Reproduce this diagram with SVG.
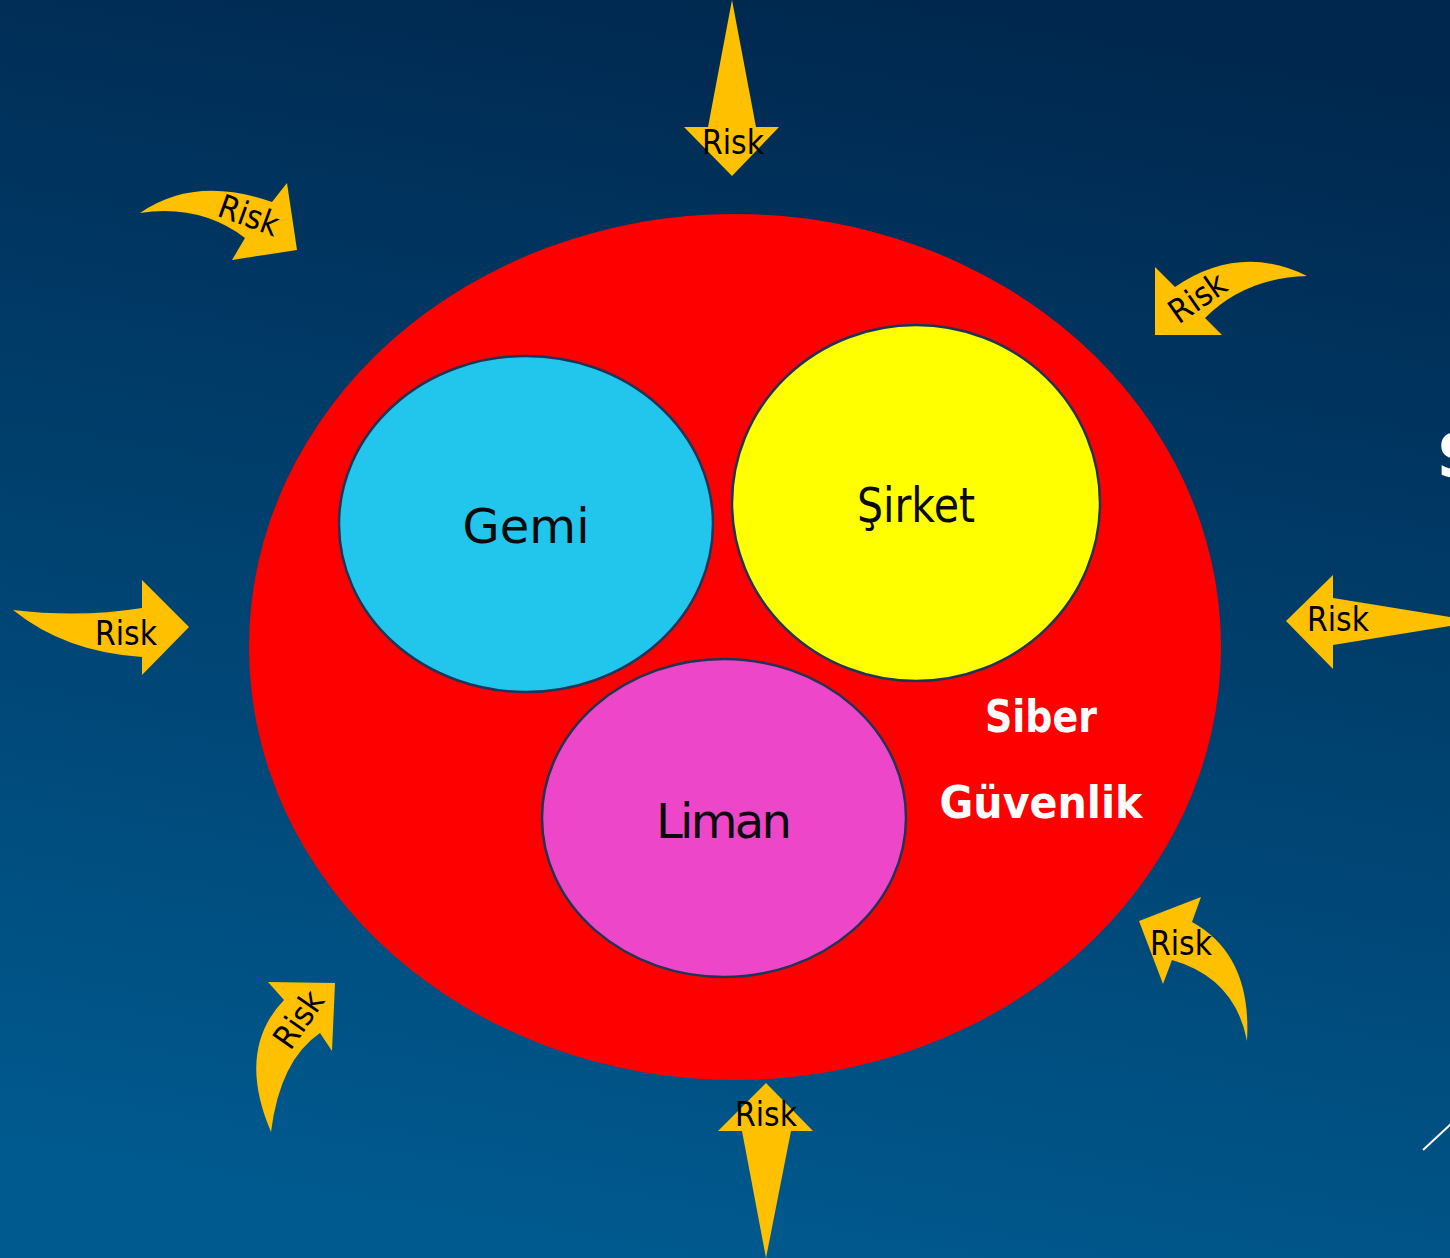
<svg xmlns="http://www.w3.org/2000/svg" width="1450" height="1258" viewBox="0 0 1450 1258">
<defs>
<linearGradient id="bg" x1="0.6" y1="0" x2="0.4" y2="1">
<stop offset="0" stop-color="#00284f"/>
<stop offset="1" stop-color="#005a8f"/>
</linearGradient>
</defs>
<style>
.arrow{fill:#ffc000}
.risk{font-family:"DejaVu Sans",sans-serif;font-size:33px;fill:#000;text-anchor:middle}
.lbl{font-family:"DejaVu Sans",sans-serif;font-size:48px;fill:#0a0a0a;text-anchor:middle}
.sib{font-family:"DejaVu Sans",sans-serif;font-weight:bold;font-size:44px;fill:#fff;text-anchor:middle}
.inner{stroke:#1f3557;stroke-width:2.5}
</style>
<rect width="1450" height="1258" fill="url(#bg)"/>
<text x="1437" y="477" font-family="DejaVu Sans, sans-serif" font-weight="bold" font-size="60" fill="#fff">S</text>
<line x1="1423" y1="1150" x2="1452" y2="1123" stroke="#fff" stroke-width="2"/>
<g id="siber-guvenlik">
<ellipse cx="735" cy="647" rx="486" ry="433" fill="#ff0000"/>
<text class="sib" x="1041" y="732" textLength="112" lengthAdjust="spacingAndGlyphs">Siber</text>
<text class="sib" x="1041" y="818" textLength="203" lengthAdjust="spacingAndGlyphs">Güvenlik</text>
</g>
<g id="gemi">
<ellipse class="inner" cx="526" cy="524" rx="187" ry="168" fill="#22c5ec"/>
<text class="lbl" x="526" y="543" textLength="127">Gemi</text>
</g>
<g id="sirket">
<ellipse class="inner" cx="916" cy="503" rx="184" ry="178" fill="#ffff00"/>
<text class="lbl" x="916" y="522" textLength="118" lengthAdjust="spacingAndGlyphs">Şirket</text>
</g>
<g id="liman">
<ellipse class="inner" cx="724" cy="818" rx="182" ry="159" fill="#ee46c8"/>
<text class="lbl" x="724" y="838" textLength="136">Liman</text>
</g>
<g id="connectors">
<g id="risk-top">
<polygon class="arrow" points="732,0 756,127 779,127 732,176 684,127 708,127"/>
<text class="risk" x="733" y="154" textLength="62" lengthAdjust="spacingAndGlyphs">Risk</text>
</g>
<g id="risk-bottom">
<polygon class="arrow" points="766,1083 813,1131 791,1131 766,1258 742,1131 718,1131"/>
<text class="risk" x="766" y="1126" textLength="62" lengthAdjust="spacingAndGlyphs">Risk</text>
</g>
<g id="risk-left">
<path class="arrow" d="M13,610 Q80,618 142,608 L142,580 L189,627 L142,675 L142,657 Q65,652 13,610 Z"/>
<text class="risk" x="126" y="645" textLength="62" lengthAdjust="spacingAndGlyphs">Risk</text>
</g>
<g id="risk-right">
<polygon class="arrow" points="1286,621 1333,575 1333,598 1450,617 1450,626 1333,645 1333,669"/>
<text class="risk" x="1338" y="631" textLength="62" lengthAdjust="spacingAndGlyphs">Risk</text>
</g>
<g id="risk-topleft">
<path class="arrow" d="M140,213 Q195,175 272,202 L287,183 L297,250 L232,260 L245,238 Q200,204 140,213 Z"/>
<text class="risk" transform="translate(245,226) rotate(20)" textLength="62" lengthAdjust="spacingAndGlyphs">Risk</text>
</g>
<g id="risk-topright">
<path class="arrow" d="M1307,276 Q1240,243 1175,287 L1155,267 L1155,335 L1222,335 L1205,318 Q1245,278 1307,276 Z"/>
<text class="risk" transform="translate(1204,307) rotate(-35)" textLength="62" lengthAdjust="spacingAndGlyphs">Risk</text>
</g>
<g id="risk-bottomleft">
<path class="arrow" d="M271,1132 Q236,1050 284,1000 L268,982 L335,983 L332,1051 L320,1033 Q280,1060 271,1132 Z"/>
<text class="risk" transform="translate(308,1026) rotate(-55)" textLength="62" lengthAdjust="spacingAndGlyphs">Risk</text>
</g>
<g id="risk-bottomright">
<path class="arrow" d="M1247,1041 Q1252,955 1192,922 L1201,897 L1139,921 L1163,984 L1172,960 Q1235,978 1247,1041 Z"/>
<text class="risk" x="1181" y="955" textLength="62" lengthAdjust="spacingAndGlyphs">Risk</text>
</g>
</g>
</svg>
